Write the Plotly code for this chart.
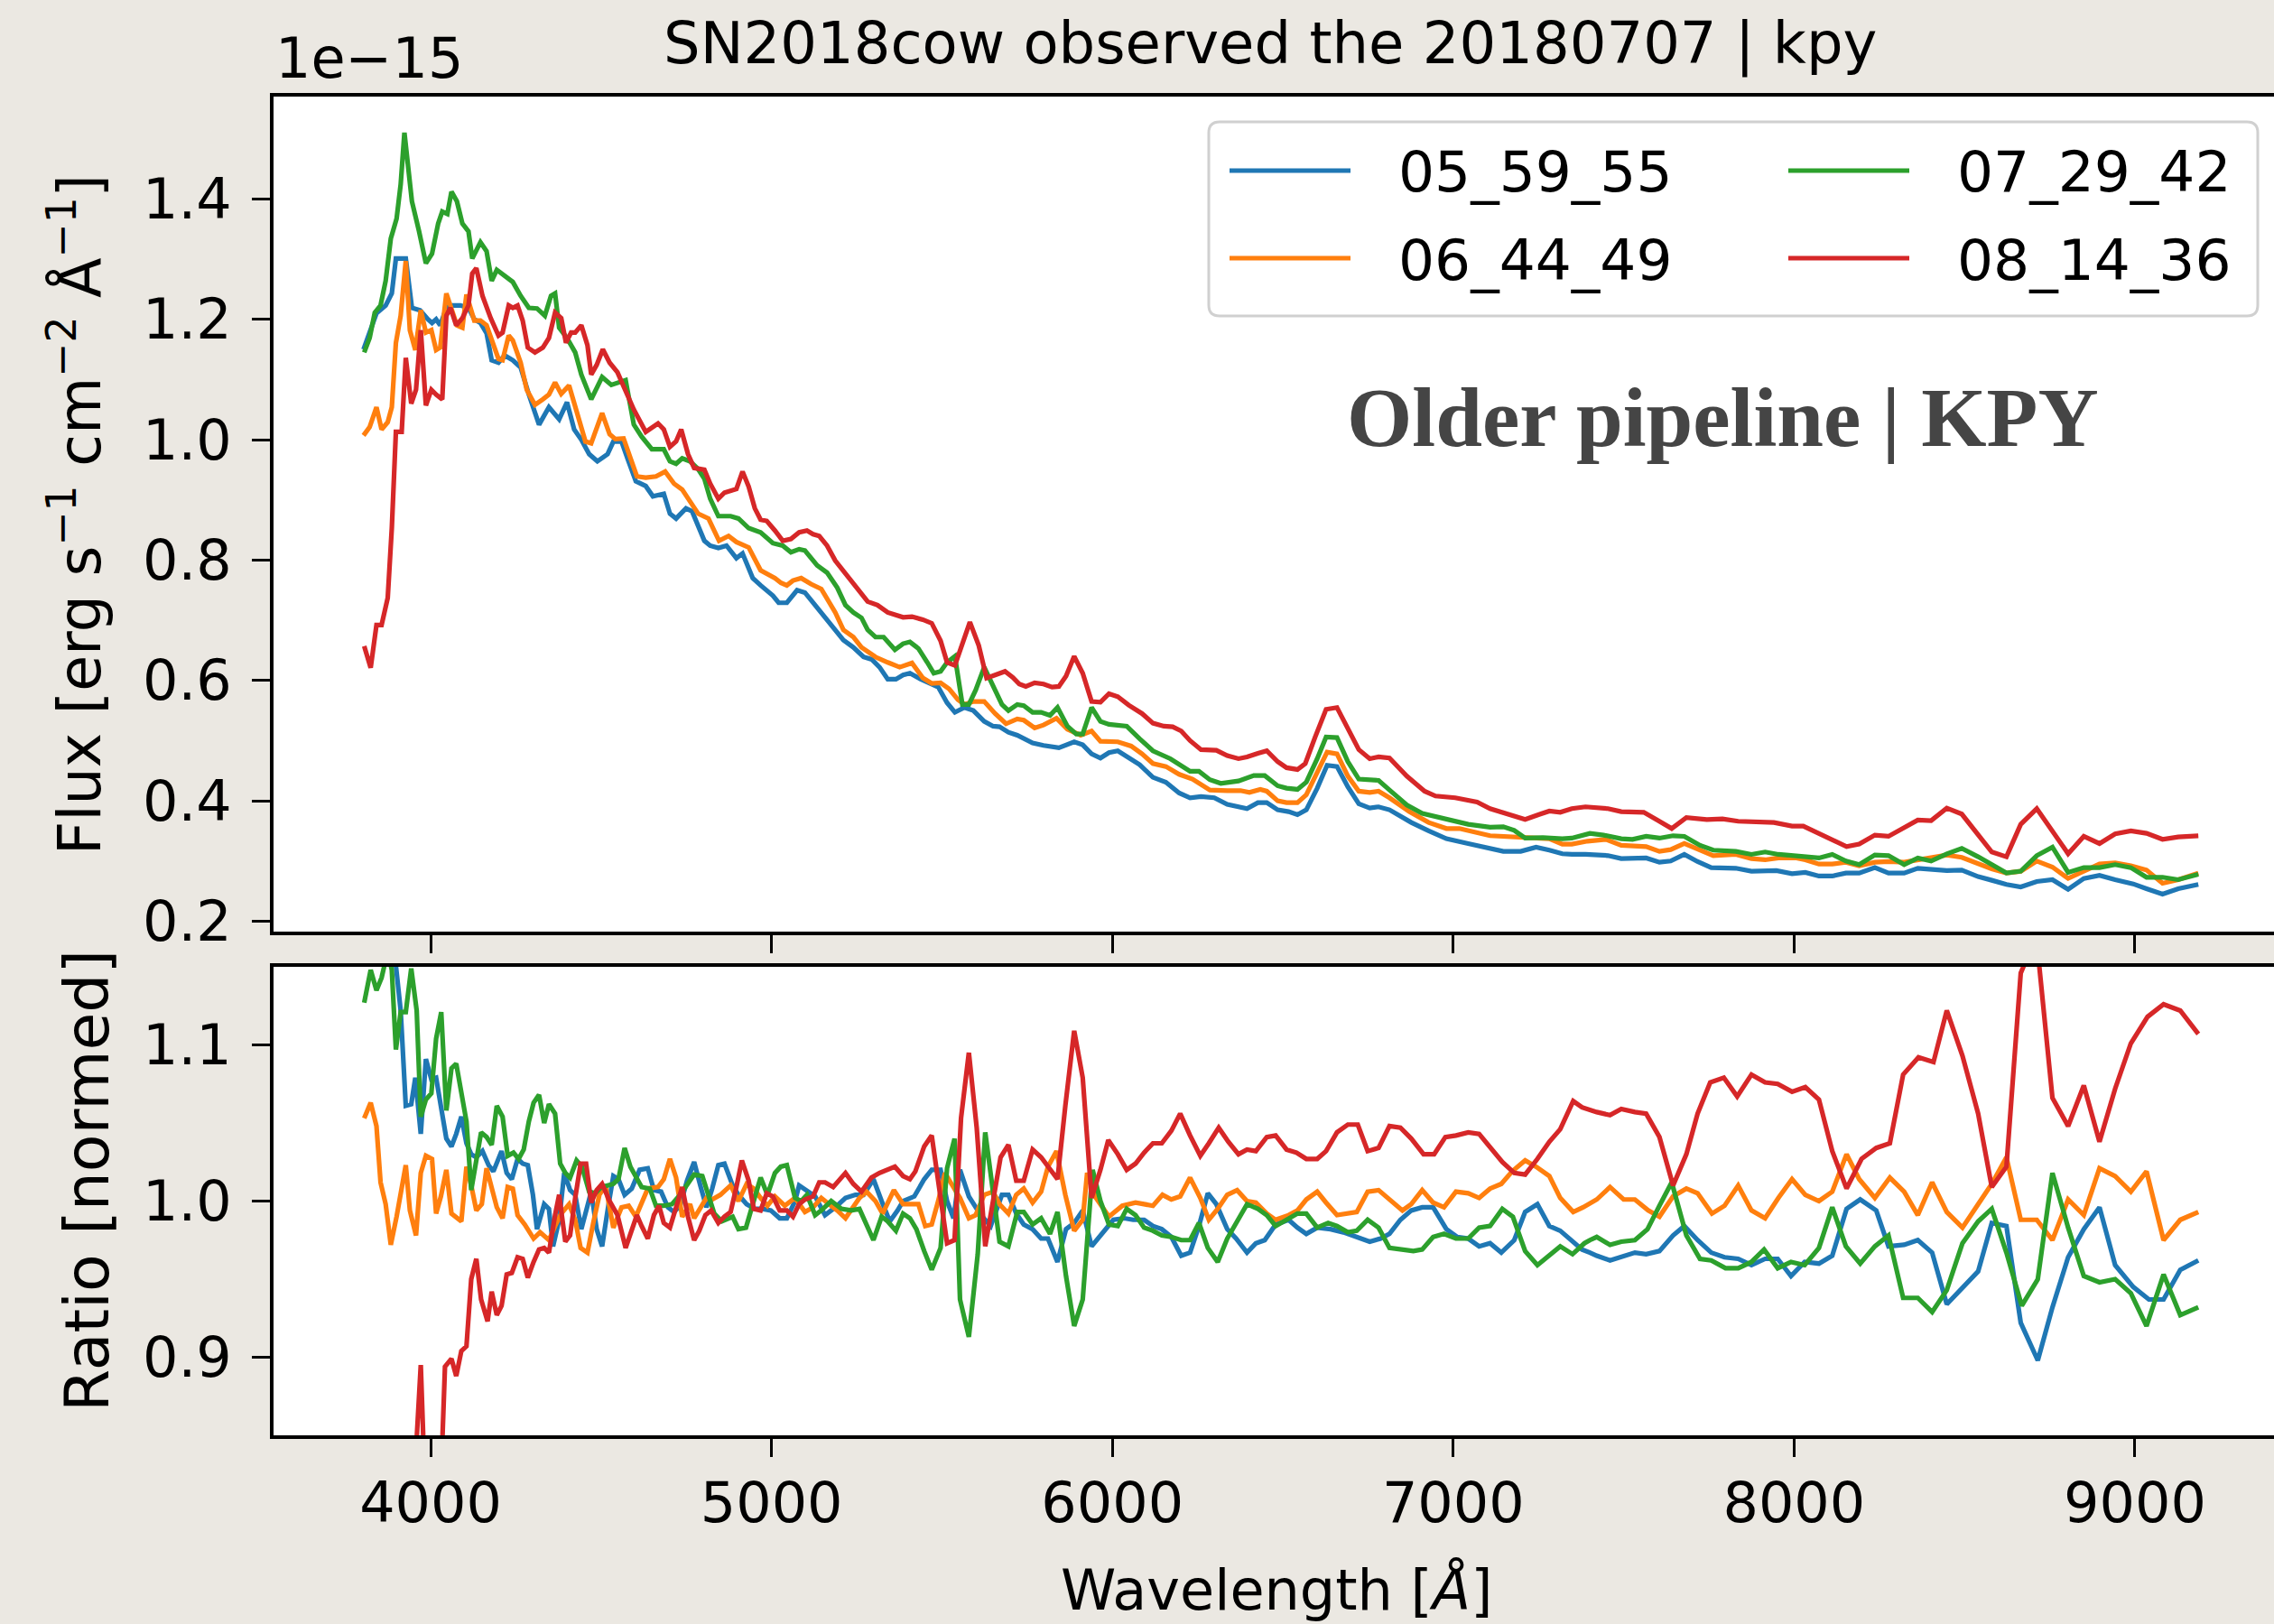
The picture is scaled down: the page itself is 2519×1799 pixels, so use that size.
import plotly.graph_objects as go

# ---------------- data (flux in units of 1e-15 erg/s/cm2/A) ----------------
LABELS = ["05_59_55", "06_44_49", "07_29_42", "08_14_36"]
COLORS = ["#1f77b4", "#ff7f0e", "#2ca02c", "#d62728"]

FLUX_0559 = [(3803,1.15),(3822,1.18),(3841,1.21),(3868,1.223),(3886,1.243),(3898,1.301),(3927,1.301),(3945,1.219),
 (3969,1.215),(3992,1.2),(4004,1.194),(4016,1.2),(4028,1.19),(4046,1.219),(4063,1.223),(4087,1.223),(4111,1.219),
 (4128,1.2),(4146,1.194),(4164,1.177),(4179,1.132),(4199,1.128),(4217,1.14),(4241,1.132),(4264,1.12),(4288,1.075),
 (4318,1.025),(4347,1.054),(4377,1.034),(4400,1.062),(4421,1.017),(4442,1.0),(4465,0.976),(4489,0.964),(4519,0.976),
 (4536,0.997),(4560,0.997),(4578,0.968),(4602,0.931),(4631,0.923),(4652,0.906),(4684,0.91),(4702,0.877),(4720,0.869),
 (4749,0.886),(4767,0.881),(4785,0.857),(4803,0.832),(4820,0.824),(4844,0.82),(4868,0.824),(4897,0.803),(4915,0.811),
 (4945,0.77),(4968,0.758),(5004,0.741),(5021,0.729),(5045,0.729),(5075,0.75),(5098,0.746),(5128,0.725),(5163,0.7),
 (5211,0.667),(5240,0.655),(5270,0.639),(5294,0.635),(5317,0.622),(5341,0.602),(5365,0.602),(5386,0.609),(5406,0.612),
 (5438,0.602),(5489,0.589),(5515,0.563),(5538,0.547),(5566,0.555),(5592,0.550),(5624,0.532),(5650,0.524),(5669,0.523),
 (5695,0.514),(5721,0.509),(5766,0.496),(5798,0.492),(5843,0.488),(5888,0.498),(5913,0.493),(5939,0.478),(5965,0.471),
 (5990,0.480),(6016,0.483),(6080,0.460),(6119,0.439),(6157,0.431),(6196,0.413),(6228,0.405),(6260,0.407),(6299,0.405),
 (6337,0.394),(6395,0.387),(6427,0.397),(6453,0.397),(6485,0.385),(6517,0.382),(6543,0.377),(6569,0.385),(6601,0.421),
 (6630,0.459),(6659,0.457),(6691,0.423),(6723,0.395),(6755,0.388),(6781,0.390),(6813,0.385),(6877,0.364),(6928,0.350),
 (6980,0.337),(7044,0.329),(7096,0.323),(7147,0.316),(7198,0.316),(7243,0.323),(7282,0.318),(7320,0.312),(7348,0.311),
 (7388,0.311),(7454,0.309),(7493,0.304),(7566,0.305),(7605,0.298),(7638,0.300),(7678,0.311),(7717,0.299),(7757,0.289),
 (7829,0.288),(7875,0.283),(7948,0.284),(7994,0.279),(8033,0.281),(8073,0.275),(8112,0.275),(8152,0.280),(8191,0.280),
 (8237,0.289),(8277,0.280),(8323,0.280),(8363,0.288),(8402,0.286),(8448,0.284),(8492,0.285),(8540,0.274),(8580,0.268),
 (8623,0.261),(8665,0.257),(8712,0.266),(8758,0.269),(8804,0.253),(8850,0.271),(8896,0.276),(8942,0.269),(8995,0.262),
 (9034,0.254),(9081,0.245),(9127,0.254),(9186,0.261)]

FLUX_0644 = [(3803,1.007),(3821,1.021),(3841,1.054),(3856,1.017),(3874,1.029),(3886,1.054),(3898,1.161),(3912,1.206),
 (3927,1.297),(3939,1.182),(3955,1.149),(3971,1.215),(3986,1.178),(4002,1.182),(4016,1.149),(4028,1.153),(4046,1.243),
 (4063,1.211),(4077,1.190),(4093,1.186),(4105,1.241),(4128,1.198),(4146,1.198),(4164,1.190),(4182,1.161),(4199,1.134),
 (4211,1.132),(4229,1.173),(4241,1.165),(4264,1.128),(4282,1.083),(4306,1.058),(4329,1.067),(4347,1.075),(4365,1.095),
 (4383,1.076),(4406,1.090),(4430,1.042),(4454,0.997),(4471,0.994),(4503,1.044),(4525,1.009),(4542,1.001),(4566,1.002),
 (4584,0.972),(4605,0.939),(4631,0.937),(4661,0.939),(4688,0.947),(4714,0.927),(4738,0.917),(4761,0.898),(4785,0.877),
 (4815,0.869),(4830,0.853),(4846,0.832),(4874,0.840),(4897,0.830),(4933,0.821),(4951,0.803),(4968,0.783),(5010,0.770),
 (5028,0.762),(5045,0.758),(5063,0.766),(5087,0.770),(5116,0.760),(5146,0.752),(5163,0.737),(5187,0.713),(5211,0.684),
 (5240,0.672),(5264,0.655),(5305,0.639),(5341,0.630),(5376,0.622),(5412,0.629),(5444,0.604),(5470,0.595),(5496,0.596),
 (5521,0.586),(5547,0.568),(5566,0.560),(5592,0.565),(5624,0.565),(5656,0.545),(5688,0.528),(5721,0.536),(5740,0.534),
 (5772,0.521),(5798,0.526),(5836,0.537),(5868,0.519),(5907,0.509),(5939,0.516),(5965,0.499),(6016,0.498),(6055,0.491),
 (6087,0.478),(6119,0.462),(6157,0.457),(6196,0.444),(6235,0.436),(6286,0.418),(6337,0.417),(6376,0.417),(6402,0.414),
 (6434,0.419),(6453,0.416),(6485,0.400),(6511,0.397),(6543,0.397),(6569,0.410),(6601,0.449),(6630,0.481),(6659,0.478),
 (6691,0.441),(6723,0.416),(6755,0.414),(6781,0.416),(6813,0.405),(6871,0.382),(6928,0.364),(6980,0.354),(7018,0.354),
 (7108,0.342),(7211,0.338),(7282,0.337),(7320,0.328),(7348,0.328),(7394,0.333),(7447,0.336),(7493,0.326),(7566,0.324),
 (7605,0.316),(7638,0.319),(7678,0.329),(7717,0.319),(7763,0.309),(7829,0.311),(7875,0.304),(7915,0.302),(7954,0.305),
 (8007,0.305),(8033,0.302),(8073,0.295),(8112,0.295),(8152,0.298),(8191,0.292),(8237,0.298),(8277,0.299),(8323,0.298),
 (8363,0.302),(8402,0.307),(8448,0.310),(8492,0.306),(8534,0.297),(8580,0.287),(8623,0.280),(8665,0.283),(8712,0.300),
 (8758,0.290),(8804,0.271),(8850,0.284),(8896,0.295),(8942,0.297),(8988,0.292),(9034,0.285),(9081,0.263),(9127,0.269),
 (9186,0.280)]

FLUX_0729 = [(3805,1.145),(3821,1.169),(3836,1.211),(3853,1.223),(3868,1.264),(3883,1.334),(3900,1.367),(3912,1.424),
 (3923,1.51),(3945,1.396),(3966,1.346),(3986,1.293),(4004,1.309),(4022,1.359),(4034,1.379),(4049,1.375),(4061,1.412),
 (4077,1.396),(4093,1.359),(4111,1.346),(4122,1.301),(4146,1.328),(4164,1.313),(4179,1.264),(4194,1.282),(4217,1.272),
 (4241,1.262),(4264,1.239),(4288,1.219),(4312,1.218),(4335,1.206),(4353,1.239),(4365,1.243),(4377,1.186),(4400,1.169),
 (4424,1.145),(4442,1.108),(4471,1.067),(4503,1.104),(4530,1.091),(4554,1.095),(4572,1.099),(4596,1.025),(4619,1.005),
 (4649,0.984),(4684,0.984),(4702,0.964),(4720,0.960),(4738,0.969),(4761,0.964),(4785,0.951),(4803,0.935),(4820,0.902),
 (4844,0.873),(4880,0.873),(4903,0.869),(4933,0.853),(4968,0.846),(5004,0.828),(5033,0.824),(5057,0.813),(5081,0.818),
 (5098,0.816),(5134,0.791),(5163,0.779),(5193,0.754),(5217,0.725),(5240,0.713),(5264,0.704),(5282,0.684),(5305,0.672),
 (5329,0.672),(5362,0.651),(5386,0.661),(5406,0.664),(5431,0.653),(5457,0.630),(5476,0.612),(5496,0.615),(5515,0.630),
 (5538,0.640),(5560,0.560),(5579,0.560),(5599,0.584),(5624,0.622),(5650,0.589),(5676,0.560),(5695,0.550),(5721,0.560),
 (5740,0.558),(5766,0.547),(5791,0.547),(5817,0.542),(5839,0.555),(5868,0.524),(5894,0.511),(5913,0.511),(5939,0.555),
 (5965,0.532),(5990,0.527),(6042,0.524),(6080,0.503),(6119,0.483),(6170,0.470),(6196,0.460),(6228,0.449),(6254,0.449),
 (6286,0.435),(6318,0.429),(6370,0.433),(6415,0.442),(6447,0.442),(6485,0.425),(6511,0.421),(6543,0.419),(6569,0.431),
 (6601,0.470),(6627,0.506),(6659,0.505),(6691,0.465),(6723,0.436),(6755,0.434),(6781,0.434),(6813,0.418),(6864,0.393),
 (6909,0.379),(6980,0.369),(7044,0.361),(7108,0.356),(7147,0.357),(7179,0.351),(7211,0.338),(7263,0.339),(7320,0.337),
 (7348,0.338),(7401,0.346),(7441,0.343),(7493,0.337),(7526,0.336),(7566,0.341),(7605,0.338),(7645,0.342),(7678,0.341),
 (7724,0.326),(7763,0.318),(7829,0.316),(7875,0.311),(7915,0.315),(7954,0.311),(7994,0.309),(8033,0.307),(8073,0.305),
 (8112,0.311),(8152,0.300),(8191,0.294),(8237,0.310),(8277,0.309),(8323,0.294),(8363,0.305),(8402,0.300),(8448,0.312),
 (8492,0.321),(8540,0.307),(8580,0.294),(8623,0.280),(8665,0.283),(8712,0.309),(8758,0.323),(8804,0.281),(8850,0.289),
 (8896,0.289),(8942,0.294),(8988,0.289),(9034,0.273),(9081,0.273),(9127,0.269),(9186,0.278)]

FLUX_0814 = [(3805,0.657),(3824,0.621),(3841,0.692),(3856,0.692),(3874,0.737),(3886,0.853),(3898,1.013),(3915,1.013),
 (3927,1.136),(3943,1.060),(3957,1.083),(3971,1.182),(3986,1.057),(4002,1.083),(4016,1.075),(4034,1.067),(4046,1.206),
 (4058,1.219),(4075,1.190),(4093,1.202),(4111,1.223),(4122,1.276),(4134,1.285),(4152,1.239),(4176,1.202),(4199,1.173),
 (4211,1.178),(4229,1.223),(4241,1.219),(4255,1.223),(4270,1.198),(4285,1.153),(4306,1.145),(4329,1.153),(4347,1.169),
 (4365,1.211),(4383,1.202),(4397,1.161),(4412,1.178),(4424,1.178),(4442,1.190),(4460,1.157),(4471,1.108),(4487,1.124),
 (4505,1.150),(4525,1.128),(4548,1.112),(4572,1.083),(4596,1.050),(4631,1.013),(4649,1.021),(4667,1.027),(4684,1.017),
 (4702,0.988),(4720,0.997),(4735,1.017),(4755,0.976),(4773,0.953),(4803,0.950),(4820,0.927),(4844,0.902),(4862,0.912),
 (4897,0.918),(4915,0.947),(4933,0.922),(4951,0.886),(4968,0.867),(4986,0.865),(5010,0.849),(5033,0.832),(5057,0.835),
 (5081,0.846),(5104,0.849),(5122,0.843),(5140,0.840),(5163,0.824),(5187,0.799),(5234,0.766),(5282,0.731),(5311,0.725),
 (5341,0.713),(5386,0.705),(5412,0.706),(5444,0.701),(5470,0.695),(5496,0.666),(5515,0.630),(5538,0.625),(5560,0.661),
 (5582,0.697),(5608,0.658),(5631,0.604),(5656,0.609),(5685,0.615),(5708,0.605),(5727,0.594),(5746,0.590),(5772,0.596),
 (5798,0.594),(5823,0.589),(5843,0.590),(5864,0.607),(5888,0.640),(5913,0.612),(5939,0.565),(5965,0.564),(5990,0.578),
 (6016,0.573),(6048,0.559),(6087,0.545),(6119,0.529),(6151,0.524),(6177,0.523),(6202,0.516),(6228,0.500),(6260,0.485),
 (6305,0.484),(6337,0.475),(6370,0.470),(6395,0.473),(6427,0.479),(6453,0.483),(6485,0.465),(6511,0.455),(6543,0.452),
 (6566,0.462),(6595,0.506),(6627,0.552),(6659,0.555),(6691,0.519),(6723,0.485),(6755,0.470),(6781,0.473),(6813,0.471),
 (6864,0.441),(6916,0.416),(6948,0.408),(7006,0.405),(7070,0.398),(7108,0.387),(7179,0.374),(7211,0.369),(7250,0.377),
 (7282,0.383),(7314,0.381),(7348,0.387),(7388,0.390),(7454,0.387),(7493,0.382),(7559,0.381),(7599,0.368),(7641,0.354),
 (7684,0.372),(7744,0.369),(7790,0.370),(7836,0.366),(7941,0.364),(7994,0.358),(8027,0.358),(8073,0.346),(8112,0.336),
 (8154,0.324),(8191,0.328),(8237,0.343),(8277,0.341),(8323,0.356),(8363,0.368),(8402,0.367),(8448,0.388),(8492,0.378),
 (8534,0.349),(8580,0.315),(8623,0.307),(8665,0.361),(8712,0.387),(8758,0.350),(8804,0.312),(8850,0.341),(8896,0.329),
 (8942,0.345),(8988,0.350),(9034,0.346),(9081,0.336),(9127,0.340),(9186,0.342)]

# ---------------- ratio (normed) ----------------
RATIO_0559 = [(3805,1.22),(3841,1.25),(3874,1.20),(3898,1.149),(3912,1.122),(3927,1.061),(3943,1.062),(3955,1.079),
 (3971,1.043),(3986,1.091),(4002,1.078),(4016,1.079),(4028,1.063),(4046,1.040),(4061,1.035),(4075,1.043),(4090,1.054),
 (4105,1.037),(4119,1.030),(4134,1.028),(4152,1.032),(4170,1.023),(4184,1.019),(4208,1.032),(4223,1.018),(4238,1.014),
 (4255,1.027),(4270,1.024),(4285,1.023),(4300,1.004),(4312,0.982),(4333,0.998),(4347,0.995),(4359,0.971),(4377,0.988),
 (4392,1.018),(4409,1.007),(4424,1.004),(4442,0.982),(4471,1.006),(4487,0.982),(4503,0.971),(4522,0.998),(4536,1.016),
 (4551,1.014),(4569,1.004),(4590,1.008),(4613,1.020),(4637,1.021),(4655,1.007),(4676,1.006),(4696,0.996),(4714,0.993),
 (4732,0.997),(4752,1.013),(4773,1.025),(4791,1.010),(4809,0.996),(4826,1.008),(4844,1.023),(4862,1.024),(4886,1.010),
 (4903,1.004),(4927,0.998),(4951,0.995),(4974,0.995),(4998,0.994),(5024,0.989),(5045,0.989),(5069,1.000),(5081,1.010),
 (5104,1.007),(5128,1.003),(5157,0.991),(5187,0.996),(5217,1.002),(5246,1.004),(5270,1.004),(5299,1.014),(5323,1.000),
 (5347,0.987),(5370,0.994),(5386,1.000),(5419,1.003),(5448,1.014),(5470,1.020),(5496,1.020),(5515,1.000),(5534,0.989),
 (5553,1.020),(5579,1.003),(5611,0.992),(5643,0.984),(5663,0.996),(5676,1.004),(5695,1.004),(5718,0.992),(5740,0.985),
 (5766,0.982),(5791,0.976),(5811,0.976),(5839,0.961),(5864,0.982),(5888,0.986),(5913,0.994),(5939,0.971),(5971,0.980),
 (6003,0.988),(6035,0.989),(6061,0.988),(6093,0.988),(6119,0.984),(6145,0.982),(6173,0.977),(6202,0.965),(6228,0.967),
 (6254,0.984),(6280,1.005),(6305,0.998),(6337,0.982),(6363,0.976),(6395,0.967),(6421,0.973),(6447,0.975),(6479,0.985),
 (6517,0.988),(6543,0.983),(6569,0.979),(6601,0.983),(6640,0.982),(6678,0.980),(6717,0.977),(6755,0.974),(6787,0.976),
 (6813,0.979),(6845,0.988),(6877,0.994),(6909,0.996),(6941,0.996),(6980,0.982),(7012,0.977),(7044,0.976),(7076,0.971),
 (7108,0.973),(7141,0.967),(7179,0.975),(7211,0.993),(7247,0.998),(7282,0.984),(7314,0.981),(7346,0.975),(7378,0.969),
 (7401,0.967),(7421,0.965),(7460,0.962),(7493,0.964),(7533,0.967),(7566,0.966),(7605,0.968),(7645,0.978),(7678,0.984),
 (7717,0.975),(7757,0.967),(7796,0.964),(7836,0.963),(7875,0.959),(7915,0.963),(7952,0.963),(7991,0.952),(8031,0.961),
 (8073,0.960),(8112,0.965),(8154,0.995),(8194,1.001),(8241,0.994),(8277,0.971),(8323,0.972),(8363,0.975),(8405,0.967),
 (8448,0.934),(8494,0.944),(8540,0.955),(8580,0.986),(8623,0.984),(8665,0.922),(8715,0.898),(8758,0.932),(8804,0.964),
 (8850,0.982),(8896,0.996),(8942,0.959),(8995,0.945),(9041,0.937),(9084,0.937),(9133,0.956),(9186,0.962)]

RATIO_0644 = [(3805,1.053),(3824,1.063),(3841,1.048),(3853,1.012),(3868,0.998),(3883,0.972),(3900,0.990),(3915,1.009),
 (3927,1.023),(3939,0.994),(3957,0.978),(3971,1.018),(3986,1.029),(4004,1.027),(4016,0.992),(4030,1.003),(4046,1.020),
 (4061,0.992),(4075,0.990),(4090,0.987),(4105,1.022),(4119,1.010),(4134,0.994),(4150,0.998),(4164,1.021),(4179,1.008),
 (4194,0.996),(4211,0.989),(4226,1.009),(4241,1.008),(4255,0.991),(4276,0.985),(4302,0.976),(4321,0.980),(4347,0.975),
 (4365,0.984),(4383,0.992),(4406,0.998),(4424,0.988),(4440,0.970),(4460,0.967),(4477,0.986),(4495,1.004),(4513,1.010),
 (4536,0.983),(4560,0.996),(4581,0.997),(4602,0.990),(4619,0.998),(4637,1.008),(4667,1.009),(4684,1.014),(4702,1.027),
 (4720,1.015),(4738,0.990),(4761,0.998),(4773,0.989),(4791,0.996),(4809,1.002),(4826,1.001),(4850,1.004),(4880,1.010),
 (4903,1.000),(4927,1.011),(4948,1.008),(4968,1.002),(4988,0.997),(5010,1.003),(5039,0.997),(5069,1.002),(5098,0.993),
 (5122,0.996),(5146,1.002),(5169,0.998),(5193,0.994),(5217,0.989),(5234,0.994),(5258,1.002),(5279,1.006),(5305,1.000),
 (5326,0.992),(5359,1.007),(5386,0.998),(5406,0.998),(5431,0.998),(5451,0.984),(5470,0.985),(5489,1.000),(5509,1.018),
 (5528,1.011),(5553,1.002),(5579,0.989),(5599,0.991),(5624,1.004),(5650,1.006),(5669,0.998),(5695,0.992),(5718,1.004),
 (5740,1.008),(5766,0.999),(5791,1.006),(5811,1.022),(5836,1.032),(5862,1.004),(5888,0.981),(5913,0.988),(5926,1.018),
 (5952,1.002),(5990,0.990),(6029,0.997),(6068,0.999),(6119,0.997),(6147,1.004),(6173,1.001),(6199,1.003),(6228,1.015),
 (6258,1.002),(6283,0.988),(6309,0.995),(6337,1.004),(6366,1.007),(6395,1.000),(6421,0.999),(6453,0.992),(6479,0.988),
 (6517,0.991),(6543,0.994),(6569,1.001),(6601,1.006),(6627,0.999),(6659,0.991),(6717,0.993),(6749,1.006),(6781,1.007),
 (6813,1.001),(6851,0.994),(6877,0.998),(6909,1.007),(6941,0.999),(6973,0.996),(7008,1.006),(7044,1.005),(7076,1.002),
 (7108,1.008),(7141,1.011),(7173,1.019),(7211,1.026),(7243,1.022),(7282,1.016),(7314,1.002),(7352,0.993),(7381,0.996),
 (7421,1.001),(7460,1.009),(7500,1.001),(7533,1.001),(7572,0.994),(7605,0.990),(7645,1.003),(7684,1.008),(7717,1.005),
 (7759,0.992),(7796,0.997),(7836,1.010),(7875,0.994),(7915,0.989),(7954,1.002),(7994,1.014),(8033,1.004),(8073,1.000),
 (8112,1.006),(8154,1.030),(8191,1.014),(8237,1.002),(8281,1.015),(8323,1.006),(8363,0.991),(8405,1.012),(8448,0.993),
 (8494,0.983),(8540,0.998),(8580,1.011),(8623,1.028),(8665,0.988),(8712,0.988),(8758,0.975),(8804,1.001),(8850,0.991),
 (8896,1.021),(8942,1.016),(8988,1.006),(9034,1.019),(9084,0.975),(9133,0.988),(9186,0.993)]

RATIO_0729 = [(3805,1.127),(3824,1.148),(3841,1.135),(3856,1.143),(3874,1.16),(3886,1.148),(3898,1.097),(3912,1.121),
 (3927,1.121),(3943,1.149),(3959,1.122),(3971,1.054),(3986,1.065),(4002,1.069),(4016,1.104),(4031,1.121),(4046,1.058),
 (4061,1.085),(4075,1.088),(4090,1.071),(4105,1.051),(4119,1.007),(4134,1.026),(4148,1.044),(4164,1.041),(4179,1.036),
 (4194,1.061),(4211,1.054),(4226,1.029),(4243,1.031),(4258,1.027),(4273,1.033),(4288,1.051),(4302,1.063),(4318,1.068),
 (4333,1.050),(4347,1.062),(4365,1.056),(4380,1.024),(4395,1.018),(4409,1.015),(4428,1.026),(4444,1.022),(4465,1.006),
 (4483,1.005),(4501,1.009),(4519,1.010),(4536,1.011),(4551,1.014),(4569,1.034),(4586,1.022),(4602,1.016),(4619,1.009),
 (4643,1.008),(4661,0.997),(4684,0.997),(4708,0.998),(4732,1.004),(4755,1.012),(4773,1.017),(4797,1.016),(4815,1.003),
 (4832,0.992),(4854,0.987),(4886,0.990),(4903,0.982),(4925,0.983),(4945,0.998),(4968,1.015),(4988,1.004),(5010,1.018),
 (5027,1.022),(5045,1.023),(5069,1.002),(5087,1.000),(5104,1.004),(5128,0.991),(5146,0.994),(5175,1.000),(5205,0.995),
 (5234,0.994),(5258,0.995),(5279,0.984),(5299,0.975),(5323,0.990),(5341,0.987),(5365,0.981),(5386,0.992),(5406,0.989),
 (5425,0.982),(5448,0.968),(5470,0.956),(5496,0.970),(5515,1.021),(5537,1.040),(5553,0.937),(5579,0.913),(5605,0.966),
 (5627,1.044),(5650,1.006),(5669,0.974),(5695,0.971),(5721,0.993),(5740,0.993),(5766,0.985),(5791,0.989),(5817,0.979),
 (5839,0.993),(5864,0.952),(5888,0.920),(5913,0.937),(5942,1.020),(5965,1.000),(5990,0.985),(6016,0.984),(6042,0.995),
 (6068,0.991),(6093,0.983),(6119,0.981),(6145,0.978),(6173,0.977),(6202,0.975),(6228,0.975),(6254,0.986),(6280,0.970),
 (6309,0.961),(6337,0.976),(6366,0.987),(6395,0.998),(6427,0.995),(6453,0.991),(6479,0.984),(6511,0.988),(6543,0.992),
 (6569,0.992),(6601,0.983),(6633,0.986),(6659,0.984),(6691,0.980),(6717,0.981),(6749,0.988),(6781,0.983),(6813,0.970),
 (6851,0.969),(6883,0.968),(6909,0.969),(6941,0.977),(6973,0.979),(7008,0.976),(7044,0.976),(7076,0.983),(7108,0.984),
 (7144,0.995),(7175,0.990),(7211,0.968),(7247,0.959),(7282,0.965),(7314,0.971),(7350,0.966),(7385,0.973),(7401,0.975),
 (7421,0.977),(7460,0.972),(7493,0.974),(7533,0.975),(7570,0.982),(7605,0.997),(7641,1.012),(7684,0.978),(7724,0.963),
 (7757,0.962),(7799,0.957),(7836,0.957),(7875,0.961),(7912,0.969),(7952,0.957),(7991,0.961),(8031,0.959),(8073,0.970),
 (8112,0.996),(8152,0.971),(8194,0.960),(8237,0.971),(8277,0.978),(8320,0.938),(8363,0.938),(8405,0.929),(8448,0.943),
 (8494,0.973),(8540,0.987),(8580,0.995),(8623,0.967),(8668,0.933),(8715,0.950),(8758,1.018),(8804,0.983),(8850,0.952),
 (8896,0.948),(8942,0.950),(8988,0.941),(9034,0.920),(9084,0.953),(9133,0.927),(9186,0.932)]

RATIO_0814 = [(3805,0.62),(3824,0.58),(3841,0.63),(3856,0.63),(3874,0.66),(3886,0.74),(3898,0.82),(3915,0.80),
 (3927,0.84),(3943,0.83),(3957,0.84),(3971,0.895),(3986,0.80),(4002,0.81),(4016,0.81),(4030,0.82),(4042,0.894),
 (4061,0.899),(4075,0.888),(4090,0.904),(4105,0.907),(4119,0.950),(4134,0.963),(4148,0.937),(4167,0.923),(4179,0.942),
 (4194,0.927),(4208,0.933),(4223,0.953),(4238,0.954),(4255,0.964),(4270,0.963),(4285,0.951),(4302,0.961),(4318,0.969),
 (4333,0.970),(4347,0.967),(4365,0.991),(4377,1.004),(4395,0.974),(4409,0.978),(4424,1.002),(4440,1.024),(4456,1.024),
 (4471,0.999),(4487,1.007),(4503,1.011),(4525,1.000),(4548,0.991),(4572,0.970),(4590,0.981),(4605,0.991),(4619,0.984),
 (4637,0.976),(4655,0.991),(4670,0.997),(4684,0.986),(4702,0.983),(4720,0.996),(4738,1.009),(4755,0.990),(4773,0.975),
 (4788,0.981),(4806,0.991),(4823,0.994),(4844,0.986),(4862,0.990),(4880,0.993),(4897,1.009),(4913,1.026),(4933,1.013),
 (4948,0.995),(4968,0.994),(4986,1.005),(5004,1.003),(5024,0.994),(5045,0.994),(5063,0.990),(5081,0.998),(5098,1.001),
 (5122,1.003),(5140,1.012),(5157,1.012),(5181,1.009),(5217,1.018),(5240,1.011),(5264,1.006),(5293,1.015),(5317,1.018),
 (5341,1.020),(5362,1.022),(5386,1.016),(5406,1.014),(5422,1.019),(5448,1.035),(5470,1.042),(5492,1.006),(5515,0.973),
 (5537,0.975),(5556,1.053),(5579,1.095),(5602,1.047),(5627,0.971),(5650,1.000),(5672,1.028),(5695,1.036),(5718,1.013),
 (5740,1.013),(5766,1.033),(5791,1.028),(5817,1.020),(5839,1.014),(5862,1.061),(5888,1.109),(5913,1.079),(5939,1.002),
 (5965,1.020),(5988,1.039),(6016,1.030),(6042,1.020),(6068,1.024),(6093,1.031),(6119,1.037),(6145,1.037),(6173,1.045),
 (6199,1.056),(6228,1.042),(6258,1.029),(6283,1.037),(6312,1.047),(6340,1.038),(6370,1.030),(6395,1.033),(6421,1.032),
 (6453,1.041),(6479,1.042),(6511,1.033),(6540,1.031),(6569,1.027),(6601,1.027),(6627,1.032),(6659,1.044),(6691,1.049),
 (6720,1.049),(6749,1.032),(6781,1.034),(6813,1.048),(6845,1.047),(6877,1.040),(6913,1.030),(6944,1.030),(6977,1.041),
 (7008,1.042),(7044,1.044),(7076,1.043),(7108,1.034),(7144,1.025),(7179,1.018),(7211,1.017),(7247,1.027),(7282,1.038),
 (7314,1.046),(7352,1.064),(7378,1.060),(7401,1.058),(7421,1.057),(7460,1.055),(7493,1.059),(7533,1.057),(7566,1.056),
 (7605,1.041),(7645,1.010),(7684,1.030),(7717,1.056),(7754,1.076),(7794,1.079),(7833,1.067),(7875,1.081),(7915,1.076),
 (7952,1.075),(7994,1.070),(8033,1.073),(8073,1.065),(8112,1.032),(8154,1.008),(8198,1.027),(8241,1.034),(8281,1.037),
 (8320,1.081),(8365,1.092),(8409,1.089),(8448,1.122),(8494,1.093),(8540,1.056),(8580,1.009),(8623,1.022),(8665,1.146),
 (8692,1.16),(8715,1.16),(8758,1.066),(8804,1.048),(8850,1.074),(8896,1.038),(8942,1.072),(8988,1.101),(9037,1.118),
 (9084,1.126),(9133,1.122),(9186,1.107)]

FLUX_SERIES = [FLUX_0559, FLUX_0644, FLUX_0729, FLUX_0814]
RATIO_SERIES = [RATIO_0559, RATIO_0644, RATIO_0729, RATIO_0814]

X_TICKS = [4000, 5000, 6000, 7000, 8000, 9000]
FLUX_TICKS = [0.2, 0.4, 0.6, 0.8, 1.0, 1.2, 1.4]
RATIO_TICKS = [0.9, 1.0, 1.1]

TITLE = "SN2018cow observed the 20180707 | kpy"
NOTE = "Older pipeline | KPY"

# ---------------- layout geometry ----------------
W, H = 2519, 1799
ML, MR, MT, MB = 303, 0, 107, 209
PW, PH = W - ML - MR, H - MT - MB


def px(X):
    return (X - ML) / PW


def py(Y):
    return (H - MB - Y) / PH


FONT = "DejaVu Sans"
FS = 62
BG = "#ebe8e2"
LW = 5.2

fig = go.Figure()
for data, col, lab in zip(FLUX_SERIES, COLORS, LABELS):
    fig.add_trace(go.Scatter(x=[p[0] for p in data], y=[p[1] for p in data], mode="lines",
                             line=dict(color=col, width=LW), name=lab, showlegend=False,
                             xaxis="x", yaxis="y"))
for data, col, lab in zip(RATIO_SERIES, COLORS, LABELS):
    fig.add_trace(go.Scatter(x=[p[0] for p in data], y=[p[1] for p in data], mode="lines",
                             line=dict(color=col, width=LW), name=lab, showlegend=False,
                             xaxis="x2", yaxis="y2"))

axis_common = dict(showline=True, linecolor="black", linewidth=4, ticks="outside", ticklen=20,
                   tickwidth=3, tickcolor="black", showgrid=False, zeroline=False,
                   tickfont=dict(family=FONT, size=FS, color="black"), automargin=False)

XR = [3539, 9408]
fig.update_layout(
    width=W, height=H,
    margin=dict(l=ML, r=MR, t=MT, b=MB, pad=0),
    paper_bgcolor=BG, plot_bgcolor="white",
    showlegend=False,
    font=dict(family=FONT, size=FS, color="black"),
    xaxis=dict(domain=[0, 1], anchor="y", range=XR, tickvals=X_TICKS, showticklabels=False,
               mirror=True, **axis_common),
    yaxis=dict(domain=[py(1032), 1], anchor="x", range=[0.1827, 1.570], tickvals=FLUX_TICKS,
               tickformat=".1f", ticklabelstandoff=10, **axis_common),
    xaxis2=dict(domain=[0, 1], anchor="y2", range=XR, tickvals=X_TICKS, mirror=True,
                ticklabelstandoff=-2, **axis_common),
    yaxis2=dict(domain=[0, py(1071)], anchor="x2", range=[0.85, 1.15], tickvals=RATIO_TICKS,
                tickformat=".1f", ticklabelstandoff=10, **axis_common),
)

ann = []
ann.append(dict(text=TITLE, x=px(1407), y=py(48), xref="paper", yref="paper", showarrow=False,
                xanchor="center", yanchor="middle", font=dict(family=FONT, size=64, color="black")))
ann.append(dict(text="1e\u221215", x=px(303), y=py(64), xref="paper", yref="paper", showarrow=False,
                xanchor="left", yanchor="middle", font=dict(family=FONT, size=FS, color="black")))
ann.append(dict(text="Flux [erg s<sup>\u22121</sup> cm<sup>\u22122</sup> \u00c5<sup>\u22121</sup>]",
                x=px(84), y=py(570), xref="paper", yref="paper", showarrow=False, textangle=-90,
                xanchor="center", yanchor="middle", font=dict(family=FONT, size=65, color="black")))
ann.append(dict(text="Ratio [normed]", x=px(96), y=py(1308), xref="paper", yref="paper",
                showarrow=False, textangle=-90, xanchor="center", yanchor="middle",
                font=dict(family=FONT, size=68, color="black")))
ann.append(dict(text="Wavelength [<i>\u00c5</i>]", x=px(1414), y=py(1762), xref="paper", yref="paper",
                showarrow=False, xanchor="center", yanchor="middle",
                font=dict(family=FONT, size=FS, color="black")))
ann.append(dict(text="<b>" + NOTE + "</b>", x=px(1908), y=py(462), xref="paper", yref="paper",
                showarrow=False, xanchor="center", yanchor="middle",
                font=dict(family="Liberation Serif", size=93, color="#454545")))

# legend (drawn manually: box, line samples, labels)
shapes = []
x0, x1, y0, y1, r = 1339, 2501, 135, 350, 12
rx, ry = r / PW, r / PH
X0, X1, Y0, Y1 = px(x0), px(x1), py(y1), py(y0)
path = (f"M {X0+rx},{Y0} L {X1-rx},{Y0} Q {X1},{Y0} {X1},{Y0+ry} L {X1},{Y1-ry} "
        f"Q {X1},{Y1} {X1-rx},{Y1} L {X0+rx},{Y1} Q {X0},{Y1} {X0},{Y1-ry} "
        f"L {X0},{Y0+ry} Q {X0},{Y0} {X0+rx},{Y0} Z")
shapes.append(dict(type="path", path=path, xref="paper", yref="paper", fillcolor="white",
                   line=dict(color="#d0d0d0", width=3), layer="above"))
slots = [(1362, 189), (1362, 286), (1981, 189), (1981, 286)]
for (sx, sy), col, lab in zip(slots, COLORS, LABELS):
    shapes.append(dict(type="line", xref="paper", yref="paper", x0=px(sx), x1=px(sx + 134),
                       y0=py(sy), y1=py(sy), line=dict(color=col, width=LW), layer="above"))
    ann.append(dict(text=lab, x=px(sx + 185), y=py(sy + 2), xref="paper", yref="paper",
                    showarrow=False, xanchor="left", yanchor="middle",
                    font=dict(family=FONT, size=63, color="black")))

fig.update_layout(annotations=ann, shapes=shapes)
fig.write_html("out.html")
